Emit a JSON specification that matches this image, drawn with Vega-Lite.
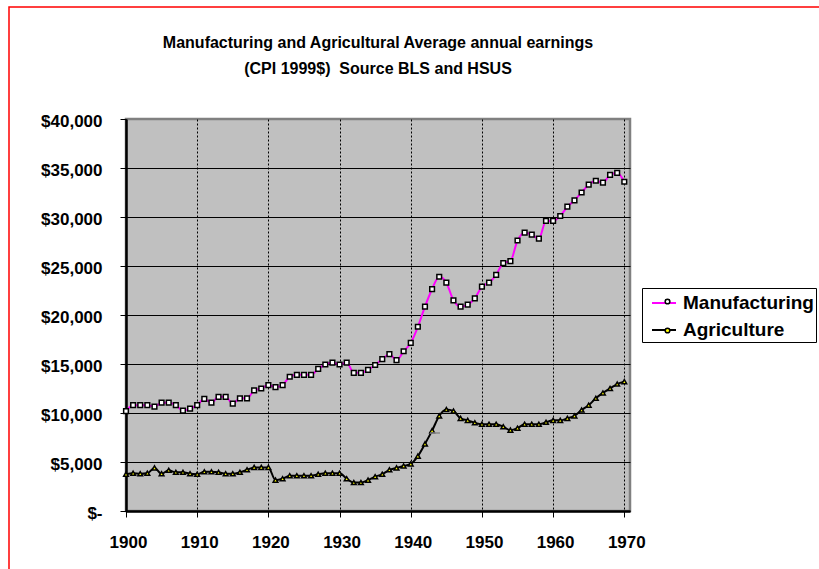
{
 "$schema": "https://vega.github.io/schema/vega-lite/v6.json",
 "autosize": {"type": "none"},
 "width": 504,
 "height": 392,
 "padding": {"left": 126, "top": 119, "right": 189, "bottom": 58},
 "background": "white",
 "title": {"text": ["Manufacturing and Agricultural Average annual earnings", "(CPI 1999$)\u00a0 Source BLS and HSUS"], "font": "Liberation Sans", "fontSize": 16, "fontWeight": "bold", "color": "black", "anchor": "middle", "offset": -71, "lineHeight": 26},
 "config": {"view": {"fill": "#C0C0C0", "stroke": "#808080", "strokeWidth": 2.5}, "font": "Liberation Sans"},
 "data": {"values": [
  {"year":1900,"series":"Manufacturing","value":10200},{"year":1901,"series":"Manufacturing","value":10800},{"year":1902,"series":"Manufacturing","value":10800},{"year":1903,"series":"Manufacturing","value":10800},{"year":1904,"series":"Manufacturing","value":10650},{"year":1905,"series":"Manufacturing","value":11050},{"year":1906,"series":"Manufacturing","value":11050},{"year":1907,"series":"Manufacturing","value":10800},{"year":1908,"series":"Manufacturing","value":10250},{"year":1909,"series":"Manufacturing","value":10450},
  {"year":1910,"series":"Manufacturing","value":10800},{"year":1911,"series":"Manufacturing","value":11450},{"year":1912,"series":"Manufacturing","value":11050},{"year":1913,"series":"Manufacturing","value":11650},{"year":1914,"series":"Manufacturing","value":11650},{"year":1915,"series":"Manufacturing","value":10950},{"year":1916,"series":"Manufacturing","value":11500},{"year":1917,"series":"Manufacturing","value":11500},{"year":1918,"series":"Manufacturing","value":12300},{"year":1919,"series":"Manufacturing","value":12500},
  {"year":1920,"series":"Manufacturing","value":12850},{"year":1921,"series":"Manufacturing","value":12650},{"year":1922,"series":"Manufacturing","value":12850},{"year":1923,"series":"Manufacturing","value":13700},{"year":1924,"series":"Manufacturing","value":13900},{"year":1925,"series":"Manufacturing","value":13900},{"year":1926,"series":"Manufacturing","value":13900},{"year":1927,"series":"Manufacturing","value":14500},{"year":1928,"series":"Manufacturing","value":14950},{"year":1929,"series":"Manufacturing","value":15150},
  {"year":1930,"series":"Manufacturing","value":14950},{"year":1931,"series":"Manufacturing","value":15150},{"year":1932,"series":"Manufacturing","value":14100},{"year":1933,"series":"Manufacturing","value":14100},{"year":1934,"series":"Manufacturing","value":14400},{"year":1935,"series":"Manufacturing","value":14900},{"year":1936,"series":"Manufacturing","value":15500},{"year":1937,"series":"Manufacturing","value":16000},{"year":1938,"series":"Manufacturing","value":15400},{"year":1939,"series":"Manufacturing","value":16300},
  {"year":1940,"series":"Manufacturing","value":17150},{"year":1941,"series":"Manufacturing","value":18800},{"year":1942,"series":"Manufacturing","value":20850},{"year":1943,"series":"Manufacturing","value":22650},{"year":1944,"series":"Manufacturing","value":23900},{"year":1945,"series":"Manufacturing","value":23300},{"year":1946,"series":"Manufacturing","value":21500},{"year":1947,"series":"Manufacturing","value":20850},{"year":1948,"series":"Manufacturing","value":21050},{"year":1949,"series":"Manufacturing","value":21700},
  {"year":1950,"series":"Manufacturing","value":22900},{"year":1951,"series":"Manufacturing","value":23300},{"year":1952,"series":"Manufacturing","value":24100},{"year":1953,"series":"Manufacturing","value":25300},{"year":1954,"series":"Manufacturing","value":25500},{"year":1955,"series":"Manufacturing","value":27600},{"year":1956,"series":"Manufacturing","value":28400},{"year":1957,"series":"Manufacturing","value":28200},{"year":1958,"series":"Manufacturing","value":27800},{"year":1959,"series":"Manufacturing","value":29600},
  {"year":1960,"series":"Manufacturing","value":29600},{"year":1961,"series":"Manufacturing","value":30100},{"year":1962,"series":"Manufacturing","value":31050},{"year":1963,"series":"Manufacturing","value":31700},{"year":1964,"series":"Manufacturing","value":32500},{"year":1965,"series":"Manufacturing","value":33300},{"year":1966,"series":"Manufacturing","value":33700},{"year":1967,"series":"Manufacturing","value":33500},{"year":1968,"series":"Manufacturing","value":34300},{"year":1969,"series":"Manufacturing","value":34500},
  {"year":1970,"series":"Manufacturing","value":33600},
  {"year":1900,"series":"Agriculture","value":3750},{"year":1901,"series":"Agriculture","value":3850},{"year":1902,"series":"Agriculture","value":3800},{"year":1903,"series":"Agriculture","value":3850},{"year":1904,"series":"Agriculture","value":4400},{"year":1905,"series":"Agriculture","value":3800},{"year":1906,"series":"Agriculture","value":4150},{"year":1907,"series":"Agriculture","value":3950},{"year":1908,"series":"Agriculture","value":3950},{"year":1909,"series":"Agriculture","value":3800},
  {"year":1910,"series":"Agriculture","value":3750},{"year":1911,"series":"Agriculture","value":4000},{"year":1912,"series":"Agriculture","value":4000},{"year":1913,"series":"Agriculture","value":3950},{"year":1914,"series":"Agriculture","value":3800},{"year":1915,"series":"Agriculture","value":3800},{"year":1916,"series":"Agriculture","value":3950},{"year":1917,"series":"Agriculture","value":4200},{"year":1918,"series":"Agriculture","value":4450},{"year":1919,"series":"Agriculture","value":4450},
  {"year":1920,"series":"Agriculture","value":4450},{"year":1921,"series":"Agriculture","value":3150},{"year":1922,"series":"Agriculture","value":3300},{"year":1923,"series":"Agriculture","value":3600},{"year":1924,"series":"Agriculture","value":3600},{"year":1925,"series":"Agriculture","value":3600},{"year":1926,"series":"Agriculture","value":3600},{"year":1927,"series":"Agriculture","value":3750},{"year":1928,"series":"Agriculture","value":3850},{"year":1929,"series":"Agriculture","value":3850},
  {"year":1930,"series":"Agriculture","value":3850},{"year":1931,"series":"Agriculture","value":3300},{"year":1932,"series":"Agriculture","value":2900},{"year":1933,"series":"Agriculture","value":2900},{"year":1934,"series":"Agriculture","value":3150},{"year":1935,"series":"Agriculture","value":3500},{"year":1936,"series":"Agriculture","value":3750},{"year":1937,"series":"Agriculture","value":4200},{"year":1938,"series":"Agriculture","value":4400},{"year":1939,"series":"Agriculture","value":4600},
  {"year":1940,"series":"Agriculture","value":4800},{"year":1941,"series":"Agriculture","value":5600},{"year":1942,"series":"Agriculture","value":6850},{"year":1943,"series":"Agriculture","value":8200},{"year":1944,"series":"Agriculture","value":9700},{"year":1945,"series":"Agriculture","value":10350},{"year":1946,"series":"Agriculture","value":10200},{"year":1947,"series":"Agriculture","value":9450},{"year":1948,"series":"Agriculture","value":9250},{"year":1949,"series":"Agriculture","value":9000},
  {"year":1950,"series":"Agriculture","value":8850},{"year":1951,"series":"Agriculture","value":8850},{"year":1952,"series":"Agriculture","value":8850},{"year":1953,"series":"Agriculture","value":8600},{"year":1954,"series":"Agriculture","value":8250},{"year":1955,"series":"Agriculture","value":8450},{"year":1956,"series":"Agriculture","value":8850},{"year":1957,"series":"Agriculture","value":8850},{"year":1958,"series":"Agriculture","value":8850},{"year":1959,"series":"Agriculture","value":9050},
  {"year":1960,"series":"Agriculture","value":9250},{"year":1961,"series":"Agriculture","value":9250},{"year":1962,"series":"Agriculture","value":9450},{"year":1963,"series":"Agriculture","value":9700},{"year":1964,"series":"Agriculture","value":10300},{"year":1965,"series":"Agriculture","value":10800},{"year":1966,"series":"Agriculture","value":11500},{"year":1967,"series":"Agriculture","value":12050},{"year":1968,"series":"Agriculture","value":12500},{"year":1969,"series":"Agriculture","value":12950},
  {"year":1970,"series":"Agriculture","value":13200}
 ]},
 "encoding": {
  "x": {"field": "year", "type": "quantitative", "scale": {"domain": [1900, 1970.8], "nice": false, "zero": false},
   "axis": {"values": [1900,1910,1920,1930,1940,1950,1960,1970], "format": "d", "title": null, "labelFont": "Liberation Sans", "labelFontSize": 17, "labelFontWeight": "bold", "labelColor": "black", "labelPadding": 17, "labelOffset": 2, "labelFlush": false, "tickSize": 6, "tickColor": "black", "tickWidth": 1, "domainColor": "black", "domainWidth": 2.5, "grid": true, "gridColor": "black", "gridDash": [2, 2], "gridWidth": 1, "gridOpacity": 1}},
  "y": {"field": "value", "type": "quantitative", "scale": {"domain": [0, 40000], "nice": false},
   "axis": {"values": [0,5000,10000,15000,20000,25000,30000,35000,40000], "title": null, "labelExpr": "datum.value == 0 ? '$-' : '$' + format(datum.value, ',')", "labelFont": "Liberation Sans", "labelFontSize": 17, "labelFontWeight": "bold", "labelColor": "black", "labelPadding": 18, "labelOffset": 2, "labelBaseline": "middle", "tickSize": 6, "tickColor": "black", "tickWidth": 1, "domainColor": "black", "domainWidth": 2.5, "grid": true, "gridColor": {"condition": {"test": "datum.value == 40000", "value": "transparent"}, "value": "black"}, "gridWidth": 1, "gridOpacity": 1}}
 },
 "layer": [
  {"mark": {"type": "line", "strokeWidth": 2, "interpolate": "monotone"},
   "encoding": {
    "color": {"field": "series", "type": "nominal", "scale": {"domain": ["Manufacturing", "Agriculture"], "range": ["#FF00FF", "#000000"]},
     "legend": {"orient": "none", "legendX": 516, "legendY": 169, "title": null, "symbolType": "stroke", "symbolSize": 576, "symbolStrokeWidth": 2, "labelFont": "Liberation Sans", "labelFontSize": 19, "labelFontWeight": "bold", "labelColor": "black", "labelOffset": 6, "padding": 2, "symbolOffset": 7, "rowPadding": 4, "strokeColor": "black"}},
    "opacity": {"datum": "frame", "type": "ordinal", "scale": {"range": [1, 1]},
     "legend": {"orient": "none", "legendX": -117, "legendY": -112, "title": null, "padding": 420, "strokeColor": "#FF0000", "symbolOpacity": 0, "labelOpacity": 0,
      "encode": {"legend": {"update": {"stroke": {"value": "#FF0000"}, "strokeWidth": {"value": 1.5}}}}}}
   }},
  {"mark": {"type": "point", "filled": true, "size": 22, "stroke": "black", "strokeWidth": 1.5, "opacity": 1},
   "encoding": {
    "shape": {"field": "series", "type": "nominal", "sort": ["Manufacturing", "Agriculture"], "scale": {"range": ["square", "triangle-up"]},
     "legend": {"orient": "none", "legendX": 516, "legendY": 169, "title": null, "symbolSize": 22, "symbolStrokeColor": "black", "symbolStrokeWidth": 1.5, "labelFont": "Liberation Sans", "labelFontSize": 19, "labelFontWeight": "bold", "labelOpacity": 0, "labelOffset": 6, "padding": 4, "symbolOffset": 12, "rowPadding": 9}},
    "fill": {"field": "series", "type": "nominal", "sort": ["Manufacturing", "Agriculture"], "scale": {"range": ["#FFFFFF", "#FFFF00"]},
     "legend": {"orient": "none", "legendX": 516, "legendY": 169, "title": null, "symbolSize": 22, "symbolStrokeColor": "black", "symbolStrokeWidth": 1.5, "labelFont": "Liberation Sans", "labelFontSize": 19, "labelFontWeight": "bold", "labelOpacity": 0, "labelOffset": 6, "padding": 4, "symbolOffset": 12, "rowPadding": 9}}
   }}
 ]
}
